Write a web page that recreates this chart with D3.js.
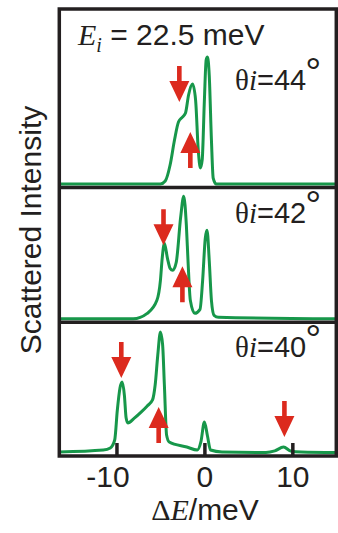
<!DOCTYPE html>
<html>
<head>
<meta charset="utf-8">
<script src="https://cdn.jsdelivr.net/npm/d3@7"></script>
<style>
  body { margin: 0; background: #fff; }
  svg { display: block; }
</style>
</head>
<body>
<div id="chart"></div>
<script>
// energy transfer (meV), scattered intensity (arb. units, per panel)
const spectrum44 = [
  [-16.5, 0], [-5.0, 0], [-4.45, 0.023], [-3.9, 0.146], [-3.4, 0.338], [-2.95, 0.477],
  [-2.5, 0.515], [-2.15, 0.546], [-1.8, 0.685], [-1.35, 0.769], [-1.0, 0.646],
  [-0.7, 0.262], [-0.45, 0.123], [-0.25, 0.185], [0.0, 0.646], [0.2, 0.954],
  [0.35, 0.977], [0.55, 0.838], [0.8, 0.338], [1.0, 0.046], [1.35, 0], [15, 0]
];
const spectrum42 = [
  [-16.5, 0], [-8.1, 0], [-6.5, 0.042], [-5.4, 0.142], [-5.0, 0.296], [-4.8, 0.465],
  [-4.55, 0.581], [-4.2, 0.465], [-3.9, 0.388], [-3.6, 0.373], [-3.2, 0.435],
  [-2.7, 0.781], [-2.35, 0.942], [-2.05, 0.719], [-1.85, 0.427], [-1.6, 0.142],
  [-1.1, 0.042], [-0.5, 0.073], [-0.2, 0.296], [0.1, 0.619], [0.3, 0.681],
  [0.55, 0.45], [0.8, 0.142], [1.1, 0.027], [1.6, 0.012], [15, 0]
];
const spectrum40 = [
  [-16.5, 0.004], [-11.5, 0.019], [-10.7, 0.035], [-10.2, 0.096], [-9.9, 0.327],
  [-9.6, 0.496], [-9.35, 0.542], [-9.1, 0.442], [-8.9, 0.265], [-8.7, 0.227],
  [-8.0, 0.262], [-7.2, 0.31], [-6.5, 0.358], [-5.9, 0.404], [-5.6, 0.519],
  [-5.3, 0.75], [-5.0, 0.927], [-4.75, 0.827], [-4.55, 0.519], [-4.3, 0.135],
  [-4.0, 0.081], [-2.0, 0.042], [-0.8, 0.019], [-0.4, 0.081], [0.0, 0.235],
  [0.35, 0.127], [0.7, 0.019], [2.0, 0.004], [7.0, 0], [8.0, 0.012], [9.0, 0.042],
  [9.8, 0.012], [11, 0.004], [15, 0]
];

// arrows: energy, intensity at the tip, direction (1 = points down, -1 = points up)
const arrows44 = [{ E: -2.85, v: 0.631, dir: 1 }, { E: -1.6, v: 0.4, dir: -1 }];
const arrows42 = [{ E: -4.65, v: 0.565, dir: 1 }, { E: -2.5, v: 0.404, dir: -1 }];
const arrows40 = [{ E: -9.45, v: 0.573, dir: 1 }, { E: -5.2, v: 0.35, dir: -1 }, { E: 9.1, v: 0.119, dir: 1 }];

const angles = ["44", "42", "40"];
const xTicks = [-10, 0, 10];

const width = 338, height = 533;
const edges = [9, 187.5, 322.3, 456];
const ink = "#231f20", green = "#17974a", red = "#dc2a1e";
const sans = "'Liberation Sans', Arial, sans-serif";
const serif = "'Liberation Serif', 'Times New Roman', serif";

const svg = d3.select("#chart")
  .append("svg")
  .attr("width", width)
  .attr("height", height);

const x = d3.scaleLinear().domain([-16.5, 15]).range([59.3, 336.3]);

const panels = [
  { data: spectrum44, arrows: arrows44, angle: angles[0] },
  { data: spectrum42, arrows: arrows42, angle: angles[1] },
  { data: spectrum40, arrows: arrows40, angle: angles[2] }
];

panels.forEach((p, i) => {
  const top = edges[i], bottom = edges[i + 1];
  const y = d3.scaleLinear().domain([0, 1]).range([bottom - 3.5, bottom - 133.5]);

  const line = d3.line()
    .x(d => x(d[0]))
    .y(d => y(d[1]))
    .curve(d3.curveMonotoneX);

  svg.append("path")
    .datum(p.data)
    .attr("d", line)
    .attr("fill", "none")
    .attr("stroke", green)
    .attr("stroke-width", 3)
    .attr("stroke-linejoin", "round");

  // arrow shape with tip at origin, pointing down
  const arrowShape = "M0,0 L-10,-21 L-2.3,-21 L-2.3,-36 L2.3,-36 L2.3,-21 L10,-21 Z";
  svg.selectAll(null)
    .data(p.arrows)
    .join("path")
    .attr("d", arrowShape)
    .attr("fill", red)
    .attr("transform", d => `translate(${x(d.E)},${y(d.v)}) scale(1,${d.dir})`);

  const label = svg.append("text")
    .attr("x", 235)
    .attr("y", bottom - (i === 0 ? 98 : 99.5))
    .attr("font-size", 29)
    .attr("fill", ink);
  label.append("tspan").attr("font-family", serif).text("θ");
  label.append("tspan").attr("font-family", serif).attr("font-style", "italic").text("i");
  label.append("tspan").attr("font-family", sans).text("=" + p.angle);
  label.append("tspan").attr("font-family", sans).attr("font-size", 40)
    .attr("dy", -4).attr("dx", -1).text("°");
});

// frame
svg.append("rect")
  .attr("x", x.range()[0]).attr("y", edges[0])
  .attr("width", x.range()[1] - x.range()[0])
  .attr("height", edges[3] - edges[0])
  .attr("fill", "none")
  .attr("stroke", ink)
  .attr("stroke-width", 3.5);

svg.selectAll(".sep")
  .data(edges.slice(1, 3))
  .join("line")
  .attr("x1", x.range()[0]).attr("x2", x.range()[1])
  .attr("y1", d => d).attr("y2", d => d)
  .attr("stroke", ink)
  .attr("stroke-width", 3.5);

// bottom axis, ticks pointing inward
const axis = svg.append("g")
  .attr("transform", `translate(0,${edges[3]})`)
  .call(d3.axisBottom(x).tickValues(xTicks).tickSize(-13).tickPadding(10)
    .tickFormat(d => d < 0 ? "-" + Math.abs(d) : d));

axis.select(".domain").remove();
axis.selectAll(".tick line")
  .attr("stroke", ink)
  .attr("stroke-width", 3.5);
axis.selectAll(".tick text")
  .attr("font-family", sans)
  .attr("font-size", 30)
  .attr("fill", ink)
  .attr("dx", d => d < 0 ? -9 : 0);

// axis titles
const xTitle = svg.append("text")
  .attr("x", 205)
  .attr("y", 520)
  .attr("text-anchor", "middle")
  .attr("font-size", 30)
  .attr("fill", ink);
xTitle.append("tspan").attr("font-family", serif).text("Δ");
xTitle.append("tspan").attr("font-family", serif).attr("font-style", "italic").text("E");
xTitle.append("tspan").attr("font-family", sans).text("/meV");

svg.append("text")
  .attr("transform", "translate(41,230) rotate(-90)")
  .attr("text-anchor", "middle")
  .attr("font-family", sans)
  .attr("font-size", 30)
  .attr("fill", ink)
  .text("Scattered Intensity");

const title = svg.append("text")
  .attr("x", 78)
  .attr("y", 45)
  .attr("font-size", 30)
  .attr("fill", ink);
title.append("tspan").attr("font-family", serif).attr("font-style", "italic").text("E");
title.append("tspan").attr("font-family", serif).attr("font-style", "italic")
  .attr("font-size", 20).attr("dy", 7).text("i");
title.append("tspan").attr("font-family", sans).attr("dy", -7).text(" = 22.5 meV");
</script>
</body>
</html>
